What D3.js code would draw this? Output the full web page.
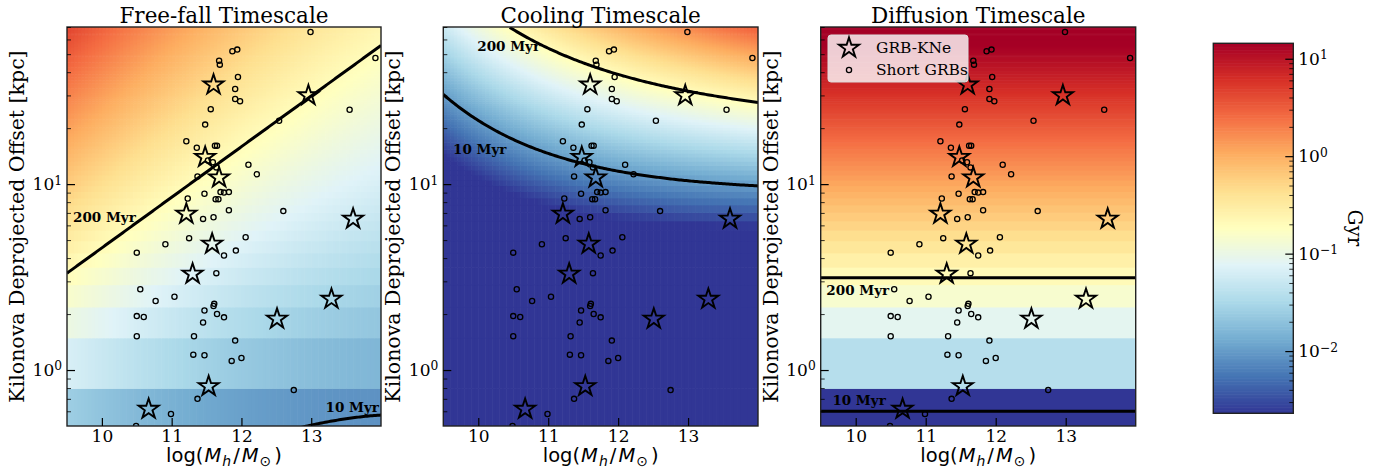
<!DOCTYPE html>
<html>
<head>
<meta charset="utf-8">
<script src="https://cdn.jsdelivr.net/npm/d3@7"></script>
<style>
  body { margin: 0; background: #fff; }
  svg { display: block; }
  text { font-family: "DejaVu Serif", serif; }
</style>
</head>
<body>
<svg id="chart" width="1385" height="474"></svg>
<script>
// short GRB hosts: log halo mass and deprojected offset (kpc)
const sgrbMass = [12.99, 13.92, 11.87, 11.94, 11.68, 11.69, 11.95, 11.91, 11.91, 11.98,
  11.56, 13.55, 12.54, 11.48, 11.21, 11.36, 11.62, 11.65, 11.52, 11.59,
  11.64, 12.10, 12.22, 11.37, 11.47, 11.70, 11.75, 11.82, 11.23, 11.63,
  11.67, 11.82, 12.60, 11.45, 11.60, 11.25, 12.06, 10.91, 10.50, 11.75,
  11.92, 11.64, 10.55, 10.77, 11.04, 11.61, 11.60, 11.47, 10.50, 10.60,
  11.65, 11.75, 11.45, 10.50, 11.32, 11.91, 11.31, 11.47, 11.86, 12.00,
  12.75, 11.37, 10.99, 10.49];
const sgrbOffset = [65.8, 47.7, 51.8, 52.9, 46.1, 43.9, 37.7, 32.5, 28.7, 27.9,
  25.3, 25.1, 21.9, 20.9, 17.0, 15.7, 16.1, 16.1, 13.4, 13.1,
  12.3, 12.7, 11.3, 11.0, 8.87, 9.06, 9.0, 9.06, 8.37, 8.3,
  8.3, 7.24, 7.16, 6.5, 6.64, 5.12, 5.18, 4.75, 4.28, 4.13,
  4.39, 3.32, 2.72, 2.35, 2.48, 2.27, 2.21, 2.09, 1.95, 1.93,
  2.0, 1.92, 1.80, 1.52, 1.52, 1.44, 1.21, 1.20, 1.12, 1.16,
  0.78, 0.70, 0.58, 0.50];

// GRBs with kilonovae
const kneMass = [11.60, 12.96, 11.48, 11.68, 11.21, 13.60, 11.58, 11.30, 13.29, 12.51, 11.53, 10.67];
const kneOffset = [33.8, 29.6, 13.8, 10.7, 6.83, 6.42, 4.71, 3.25, 2.38, 1.86, 0.807, 0.609];

const panelTitles = ["Free-fall Timescale", "Cooling Timescale", "Diffusion Timescale"];
const massTicks = [10, 11, 12, 13];
const offsetTicks = [1, 10];
const offsetMinor = [0.6, 0.7, 0.8, 0.9, 2, 3, 4, 5, 6, 7, 8, 9, 20, 30, 40, 50, 60, 70];
const cbarTicks = [0.01, 0.1, 1, 10];
const cbarMinor = [0.003, 0.004, 0.005, 0.006, 0.007, 0.008, 0.009,
  0.02, 0.03, 0.04, 0.05, 0.06, 0.07, 0.08, 0.09,
  0.2, 0.3, 0.4, 0.5, 0.6, 0.7, 0.8, 0.9,
  2, 3, 4, 5, 6, 7, 8, 9];
const levels = [0.01, 0.2];          // Gyr
const levelNames = ["10 Myr", "200 Myr"];

// timescale fields in Gyr (fitted by eye to the contours and colours)
const timescale = [
  (M, r) => {
    const m = M - 9.5, L = Math.log10(r);
    return Math.pow(10, -0.699 + (1.021 - 0.0824 * m) * (L - 0.521 - 0.2722 * m));
  },
  (M, r) => {
    const m = M - 9.5, L = Math.log10(r);
    return Math.pow(10, -1.857 - 1.107 * Math.exp(-m / 2) + (2.0 + 0.2 * m) * (L - 1));
  },
  (M, r) => Math.max(0.03897 * Math.pow(r, 1.47) - 0.00975, 1e-4)
];

// where the contour labels sit (data coords of text start / baseline)
const labelSpots = [
  [{M: 13.205, r: 0.596}, {M: 9.586, r: 6.29}],
  [{M: 9.639, r: 14.6}, {M: 9.986, r: 51.8}],
  [{M: 9.667, r: 0.648}, {M: 9.581, r: 2.53}]
];

// grid the model is sampled on (linear in r, as in the original)
const rowCenters = d3.range(101).map(k => 0.45 + 0.695 * k);
const rowHalf = 0.3475;
const colCenters = d3.range(90).map(i => 9.525 + 0.05 * i);
const contourMass = d3.range(181).map(i => 9.5 + i * 0.025);

const plotTop = 27, plotBottom = 426;
const panels = [
  {x0: 67, x1: 381},
  {x0: 443.3, x1: 758},
  {x0: 820.7, x1: 1135.7}
];

const rdylbu = ["#a50026", "#d73027", "#f46d43", "#fdae61", "#fee090", "#ffffbf",
  "#e0f3f8", "#abd9e9", "#74add1", "#4575b4", "#313695"];
const cmap = d3.piecewise(d3.interpolateRgb, rdylbu.slice().reverse());
const tMin = 0.0023, tMax = 14.4;
const color = d3.scaleSequentialLog(cmap).domain([tMin, tMax]).clamp(true);

const svg = d3.select("#chart");
const defs = svg.append("defs");

function powerLabel(sel) {
  sel.each(function(d) {
    const t = d3.select(this);
    const e = Math.round(Math.log10(d));
    t.text(null);
    t.append("tspan").text("10");
    t.append("tspan").attr("dy", "-0.45em").attr("font-size", "0.72em")
      .text(e < 0 ? "\u2212" + (-e) : String(e));
  });
}

function crossing(f, M, level) {
  for (let k = 0; k < rowCenters.length - 1; k++) {
    const a = f(M, rowCenters[k]), b = f(M, rowCenters[k + 1]);
    if ((a - level) * (b - level) <= 0 && a !== b) {
      return rowCenters[k] + (level - a) / (b - a) * (rowCenters[k + 1] - rowCenters[k]);
    }
  }
  return null;
}

panels.forEach((p, i) => {
  const x = d3.scaleLinear().domain([9.5, 14]).range([p.x0, p.x1]);
  const y = d3.scaleLog().domain([0.5, 70]).range([plotBottom, plotTop]);
  const f = timescale[i];

  defs.append("clipPath").attr("id", "clip" + i)
    .append("rect")
    .attr("x", p.x0).attr("y", plotTop)
    .attr("width", p.x1 - p.x0).attr("height", plotBottom - plotTop);

  const g = svg.append("g");
  const inner = g.append("g").attr("clip-path", `url(#clip${i})`);

  // background field
  let cells = [];
  if (i === 2) {
    rowCenters.forEach(r => cells.push({lo: 9.5, hi: 14, r: r, v: f(12, r)}));
  } else {
    rowCenters.forEach(r => colCenters.forEach(M =>
      cells.push({lo: M - 0.025, hi: M + 0.025, r: r, v: f(M, r)})));
  }
  inner.append("g").selectAll("rect").data(cells).join("rect")
    .attr("x", d => x(d.lo))
    .attr("width", d => x(d.hi) - x(d.lo) + 0.6)
    .attr("y", d => y(d.r + rowHalf))
    .attr("height", d => y(d.r - rowHalf) - y(d.r + rowHalf) + 0.6)
    .attr("fill", d => color(d.v));

  // contour lines
  const line = d3.line()
    .defined(d => d.r !== null)
    .x(d => x(d.M)).y(d => y(d.r));
  levels.forEach(level => {
    const pts = contourMass.map(M => ({M: M, r: crossing(f, M, level)}));
    inner.append("path").datum(pts)
      .attr("d", line)
      .attr("fill", "none")
      .attr("stroke", "#000")
      .attr("stroke-width", 3);
  });

  // contour labels
  levelNames.forEach((name, j) => {
    const s = labelSpots[i][j];
    g.append("text")
      .attr("x", x(s.M)).attr("y", y(s.r))
      .attr("font-size", 13.5).attr("font-weight", "bold")
      .text(name);
  });

  // short GRBs
  inner.append("g").selectAll("circle").data(sgrbMass).join("circle")
    .attr("cx", (d, k) => x(d))
    .attr("cy", (d, k) => y(sgrbOffset[k]))
    .attr("r", 2.6)
    .attr("fill", "none")
    .attr("stroke", "#000")
    .attr("stroke-width", 1.3);

  // GRB-KNe
  const star = d3.symbol().type(d3.symbolStar).size(125);
  inner.append("g").selectAll("path").data(kneMass).join("path")
    .attr("transform", (d, k) => `translate(${x(d)},${y(kneOffset[k]) - 1})`)
    .attr("d", star)
    .attr("fill", "none")
    .attr("stroke", "#000")
    .attr("stroke-width", 1.9);

  // frame
  g.append("rect")
    .attr("x", p.x0).attr("y", plotTop)
    .attr("width", p.x1 - p.x0).attr("height", plotBottom - plotTop)
    .attr("fill", "none").attr("stroke", "#222").attr("stroke-width", 1.4);

  // axes
  g.append("g")
    .attr("transform", `translate(0,${plotBottom})`)
    .call(d3.axisBottom(x).tickValues(massTicks).tickSize(-8).tickPadding(4).tickSizeOuter(0).tickFormat(d3.format("d")))
    .call(a => a.select(".domain").remove())
    .call(a => a.selectAll("line").attr("stroke-width", 1.2))
    .call(a => a.selectAll("text").attr("font-family", "DejaVu Serif").attr("font-size", 17).attr("fill", "#000"));

  g.append("g")
    .attr("transform", `translate(${p.x0},0)`)
    .call(d3.axisLeft(y).tickValues(offsetTicks).tickSize(-8).tickPadding(5).tickSizeOuter(0))
    .call(a => a.select(".domain").remove())
    .call(a => a.selectAll("line").attr("stroke-width", 1.2))
    .call(a => a.selectAll("text").attr("font-family", "DejaVu Serif").attr("font-size", 17).attr("fill", "#000").call(powerLabel));

  g.append("g")
    .attr("transform", `translate(${p.x0},0)`)
    .call(d3.axisLeft(y).tickValues(offsetMinor).tickSize(-4).tickFormat("").tickSizeOuter(0))
    .call(a => a.select(".domain").remove())
    .call(a => a.selectAll("line").attr("stroke-width", 0.8));

  // titles and labels
  const cx = (p.x0 + p.x1) / 2;
  g.append("text")
    .attr("x", cx).attr("y", 23)
    .attr("text-anchor", "middle").attr("font-size", 21.5)
    .text(panelTitles[i]);

  g.append("text")
    .attr("transform", `translate(${p.x0 - 43},${(plotTop + plotBottom) / 2}) rotate(-90)`)
    .attr("text-anchor", "middle").attr("font-size", 20.5)
    .text("Kilonova Deprojected Offset [kpc]");

  const xl = g.append("text")
    .attr("x", cx).attr("y", 462)
    .attr("text-anchor", "middle").attr("font-size", 19.5)
    .style("font-family", "'DejaVu Sans', sans-serif");
  xl.append("tspan").text("log(");
  xl.append("tspan").attr("font-style", "italic").attr("dx", 1).text("M");
  xl.append("tspan").attr("font-style", "italic").attr("font-size", 14).attr("dx", 1).attr("dy", 4).text("h");
  xl.append("tspan").attr("dx", 2).attr("dy", -4).text("/");
  xl.append("tspan").attr("font-style", "italic").attr("dx", 2).text("M");
  xl.append("tspan").attr("font-size", 14).attr("dx", 1).attr("dy", 4).text("\u2299");
  xl.append("tspan").attr("dx", 3).attr("dy", -4).text(")");

  // legend in the last panel
  if (i === 2) {
    const lg = g.append("g");
    lg.append("rect")
      .attr("x", 828).attr("y", 35).attr("width", 140).attr("height", 47).attr("rx", 3)
      .attr("fill", "#fff").attr("fill-opacity", 0.8)
      .attr("stroke", "#ddd").attr("stroke-width", 1);
    lg.append("path")
      .attr("transform", "translate(849,48)")
      .attr("d", star)
      .attr("fill", "none").attr("stroke", "#000").attr("stroke-width", 1.9);
    lg.append("circle")
      .attr("cx", 849).attr("cy", 70).attr("r", 2.6)
      .attr("fill", "none").attr("stroke", "#000").attr("stroke-width", 1.3);
    lg.append("text").attr("x", 876).attr("y", 53).attr("font-size", 15.5).text("GRB-KNe");
    lg.append("text").attr("x", 876).attr("y", 75).attr("font-size", 15.5).text("Short GRBs");
  }
});

// colour bar
const cb = {x0: 1213.3, x1: 1293.3, y0: 43.3, y1: 413.3};
const cbScale = d3.scaleLog().domain([tMin, tMax]).range([cb.y1, cb.y0]);
const steps = d3.range(256).map(k => Math.pow(10, Math.log10(tMin) + (k + 0.5) / 256 * Math.log10(tMax / tMin)));
const stepH = (cb.y1 - cb.y0) / 256;
const cbg = svg.append("g");
cbg.selectAll("rect").data(steps).join("rect")
  .attr("x", cb.x0).attr("width", cb.x1 - cb.x0)
  .attr("y", d => cbScale(d) - stepH / 2 - 0.3)
  .attr("height", stepH + 0.6)
  .attr("fill", d => color(d));
cbg.append("rect")
  .attr("x", cb.x0).attr("y", cb.y0)
  .attr("width", cb.x1 - cb.x0).attr("height", cb.y1 - cb.y0)
  .attr("fill", "none").attr("stroke", "#222").attr("stroke-width", 1.4);
cbg.append("g")
  .attr("transform", `translate(${cb.x1},0)`)
  .call(d3.axisRight(cbScale).tickValues(cbarTicks).tickSize(-8).tickPadding(5).tickSizeOuter(0))
  .call(a => a.select(".domain").remove())
  .call(a => a.selectAll("line").attr("stroke-width", 1.2))
  .call(a => a.selectAll("text").attr("font-family", "DejaVu Serif").attr("font-size", 17).attr("fill", "#000").call(powerLabel));
cbg.append("g")
  .attr("transform", `translate(${cb.x1},0)`)
  .call(d3.axisRight(cbScale).tickValues(cbarMinor).tickSize(-4).tickFormat("").tickSizeOuter(0))
  .call(a => a.select(".domain").remove())
  .call(a => a.selectAll("line").attr("stroke-width", 0.8));
cbg.append("text")
  .attr("transform", "translate(1348,228) rotate(90)")
  .attr("text-anchor", "middle").attr("font-size", 20)
  .text("Gyr");
</script>
</body>
</html>
